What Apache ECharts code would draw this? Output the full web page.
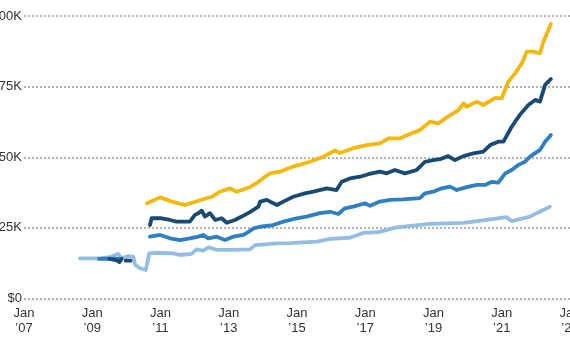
<!DOCTYPE html>
<html><head><meta charset="utf-8">
<script src="https://cdn.jsdelivr.net/npm/echarts@6/dist/echarts.min.js"></script>
<style>html,body{margin:0;padding:0;background:#fff}#c{width:570px;height:350px}</style>
</head><body><div id="c"></div>
<script>
// values in thousands of dollars, x in decimal years
var xTicks = [2007, 2009, 2011, 2013, 2015, 2017, 2019, 2021, 2023];
var yTicks = [0, 25, 50, 75, 100];

var gold = [[2010.6,33.7],[2010.99,35.8],[2011.33,34.3],[2011.72,33.1],[2012.11,34.6],[2012.5,36.0],[2012.74,37.8],[2013.04,39.0],[2013.23,37.8],[2013.62,39.4],[2013.87,41.3],[2014.06,43.1],[2014.21,44.3],[2014.5,44.9],[2014.89,46.7],[2015.38,48.4],[2015.77,50.2],[2016.11,52.4],[2016.26,51.5],[2016.65,53.2],[2017.04,54.3],[2017.43,54.9],[2017.68,56.7],[2018.02,56.7],[2018.31,58.2],[2018.6,59.6],[2018.9,62.6],[2019.14,62.0],[2019.39,64.1],[2019.73,66.7],[2019.88,69.1],[2019.97,67.9],[2020.27,69.7],[2020.46,68.5],[2020.8,70.9],[2021.0,70.9],[2021.19,76.7],[2021.39,79.7],[2021.6,83.5],[2021.73,87.4],[2021.93,87.4],[2022.12,86.8],[2022.22,90.9],[2022.44,97.2]];

var navy = [[2009.5,14.0],[2009.7,13.6],[2009.8,12.9],[2009.86,14.0],[2009.9,null],[2009.98,13.4],[2010.12,13.4],[2010.4,null],
[2010.69,26.0],[2010.74,28.4],[2011.03,28.4],[2011.28,27.8],[2011.47,27.2],[2011.86,27.2],[2012.01,29.6],[2012.11,30.2],[2012.21,31.1],[2012.3,29.0],[2012.45,30.2],[2012.6,27.8],[2012.79,28.4],[2012.94,26.8],[2013.18,27.8],[2013.38,29.0],[2013.62,30.6],[2013.87,32.5],[2013.92,34.3],[2014.11,34.9],[2014.41,33.1],[2014.7,34.9],[2014.89,36.0],[2015.23,37.2],[2015.48,37.8],[2015.87,39.0],[2016.16,38.4],[2016.31,41.3],[2016.55,42.5],[2016.85,43.1],[2017.09,44.0],[2017.43,44.9],[2017.63,44.3],[2017.87,45.5],[2018.16,44.3],[2018.51,45.5],[2018.75,48.4],[2018.99,49.0],[2019.19,49.3],[2019.43,50.4],[2019.63,49.0],[2019.88,50.4],[2020.17,51.4],[2020.46,52.0],[2020.66,54.3],[2020.9,55.5],[2021.05,55.5],[2021.29,60.8],[2021.53,65.0],[2021.78,68.5],[2021.98,70.3],[2022.12,69.7],[2022.27,75.6],[2022.44,77.7]];

var medium = [[2009.2,14.0],[2009.5,14.1],[2009.85,14.0],[2010.0,null],
[2010.69,21.9],[2010.99,22.5],[2011.28,21.3],[2011.57,20.7],[2011.86,21.3],[2012.11,21.9],[2012.25,22.5],[2012.4,21.3],[2012.65,21.9],[2012.89,20.7],[2013.13,21.9],[2013.43,22.5],[2013.58,23.6],[2013.72,24.8],[2013.92,25.4],[2014.3,26.0],[2014.6,27.2],[2014.99,28.4],[2015.28,29.0],[2015.67,30.2],[2015.97,30.7],[2016.21,29.9],[2016.4,31.9],[2016.65,32.5],[2016.99,33.7],[2017.14,32.8],[2017.43,34.3],[2017.73,34.9],[2018.11,35.1],[2018.6,35.5],[2018.75,37.2],[2018.99,37.8],[2019.24,39.0],[2019.48,39.6],[2019.68,38.4],[2019.97,39.4],[2020.27,40.2],[2020.51,40.2],[2020.71,41.3],[2020.9,41.0],[2021.1,44.3],[2021.29,45.5],[2021.49,47.3],[2021.68,48.4],[2021.83,50.2],[2022.12,52.6],[2022.27,55.5],[2022.44,57.9]];

var light = [[2008.64,14.2],[2009.23,14.2],[2009.52,14.6],[2009.76,15.8],[2009.86,14.2],[2010.06,15.0],[2010.2,14.8],[2010.26,11.9],[2010.4,10.7],[2010.57,10.1],[2010.67,16.0],[2010.89,16.2],[2011.38,16.0],[2011.57,15.4],[2011.91,15.8],[2012.06,17.4],[2012.25,16.9],[2012.4,18.1],[2012.65,17.2],[2013.13,17.2],[2013.62,17.4],[2013.77,18.9],[2014.41,19.5],[2014.8,19.6],[2015.58,20.1],[2015.97,21.1],[2016.55,21.5],[2016.94,23.2],[2017.38,23.5],[2017.92,25.2],[2018.9,26.4],[2019.88,26.8],[2020.56,27.8],[2021.14,28.8],[2021.29,27.4],[2021.83,29.0],[2022.02,30.2],[2022.41,32.5]];

var chart = echarts.init(document.getElementById('c'), null, {renderer:'canvas'});
function ser(d, color, z){
  return {type:'line', data:d, showSymbol:false, symbol:'none', connectNulls:false, z:z,
    lineStyle:{color:color, width:3.8, cap:'round', join:'round'}, itemStyle:{color:color}, animation:false};
}
chart.setOption({
  animation:false,
  grid:{left:24, right:0, top:16, bottom:51.5, containLabel:false, outerBoundsMode:'none'},
  xAxis:{type:'value', min:2007, max:2023, interval:2,
    axisLine:{show:false}, axisTick:{show:false}, splitLine:{show:false},
    axisLabel:{margin:7, color:'#333', fontFamily:'Liberation Sans, Arial, sans-serif', fontSize:13, lineHeight:15,
      hideOverlap:false, showMinLabel:true, showMaxLabel:true,
      formatter:function(v){ return 'Jan\n\u2019' + String(v).slice(2); }}},
  yAxis:{type:'value', min:0, max:100, interval:25,
    axisLine:{show:false}, axisTick:{show:false},
    splitLine:{show:true, lineStyle:{color:'#9a9a9a', type:[2,2], width:1.5}},
    axisLabel:{margin:2, color:'#333', fontFamily:'Liberation Sans, Arial, sans-serif', fontSize:13,
      formatter:function(v){ return v===0 ? '$0' : v + 'K'; }}},
  series:[ser(light,'#93bde3',1), ser(medium,'#2f7fc3',2), ser(navy,'#184a73',3), ser(gold,'#f4b80c',4)]
});
</script></body></html>
